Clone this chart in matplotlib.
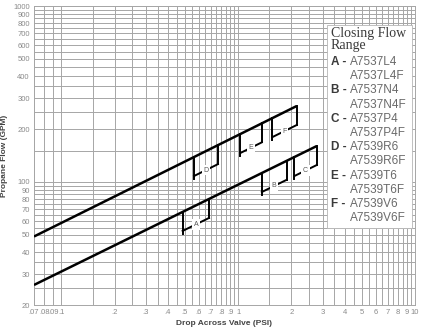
import matplotlib
matplotlib.use('Agg')
import matplotlib.pyplot as plt
import numpy as np
from matplotlib.patches import Rectangle

# ---- data ----
upper_x = [0.07, 2.14]
upper_y = [49, 270]
lower_x = [0.07, 2.78]
lower_y = [26, 160]

upper_brackets = [('D', 0.563, 0.768), ('E', 1.03, 1.36), ('F', 1.56, 2.14)]
lower_brackets = [('A', 0.485, 0.684), ('B', 1.36, 1.88), ('C', 2.08, 2.78)]

x_ticks = [0.07, 0.08, 0.09, 0.1, 0.2, 0.3, 0.4, 0.5, 0.6, 0.7, 0.8, 0.9, 1,
           2, 3, 4, 5, 6, 7, 8, 9, 10]
x_ticklabels = ['.07', '.08', '.09', '.1', '.2', '.3', '.4', '.5', '.6', '.7', '.8', '.9', '1',
                '2', '3', '4', '5', '6', '7', '8', '9', '10']
y_ticks = [20, 30, 40, 50, 60, 70, 80, 90, 100, 200, 300, 400, 500, 600, 700, 800, 900, 1000]
y_ticklabels = [str(v) for v in y_ticks]

legend_title = ['Closing Flow', 'Range']
legend_letters = ['A', 'B', 'C', 'D', 'E', 'F']
legend_codes = [('A7537L4', 'A7537L4F'), ('A7537N4', 'A7537N4F'), ('A7537P4', 'A7537P4F'),
                ('A7539R6', 'A7539R6F'), ('A7539T6', 'A7539T6F'), ('A7539V6', 'A7539V6F')]

# ---- figure ----
W, H = 421, 333
fig = plt.figure(figsize=(W / 100, H / 100), dpi=100)
ax = fig.add_axes([34 / W, 1 - 305 / H, (415 - 34) / W, (305 - 6) / H])
ax.set_xscale('log')
ax.set_yscale('log')
ax.set_xlim(0.07, 10)
ax.set_ylim(20, 1000)

grid_c = '#a6a6a6'
xgrid = list(np.arange(0.07, 0.1, 0.01)) + list(np.arange(0.1, 1.0, 0.05)) + list(np.arange(1, 10.01, 0.5))
ygrid = list(np.arange(20, 100, 5)) + list(np.arange(100, 1001, 50))
for gx in xgrid:
    ax.axvline(gx, color=grid_c, lw=0.7, zorder=1)
for gy in ygrid:
    ax.axhline(gy, color=grid_c, lw=0.7, zorder=1)

ax.set_xticks(x_ticks)
ax.set_xticklabels(x_ticklabels)
ax.set_yticks(y_ticks)
ax.set_yticklabels(y_ticklabels)
ax.xaxis.set_minor_locator(matplotlib.ticker.NullLocator())
ax.yaxis.set_minor_locator(matplotlib.ticker.NullLocator())
ax.tick_params(length=0, labelsize=5.5, labelcolor='#8a8a8a', pad=3)
for lab in ax.get_xticklabels() + ax.get_yticklabels():
    lab.set_family('Liberation Sans')
for s in ax.spines.values():
    s.set_color(grid_c)
    s.set_linewidth(0.7)

ax.set_xlabel('Drop Across Valve (PSI)', fontsize=6, color='#444444',
              family='Liberation Sans', fontweight='bold', labelpad=3)
ax.set_ylabel('Propane Flow (GPM)', fontsize=6, color='#444444',
              family='Liberation Sans', fontweight='bold', labelpad=4)

# ---- lines ----
ax.plot(upper_x, upper_y, color='black', lw=1.8, zorder=3, solid_capstyle='butt')
ax.plot(lower_x, lower_y, color='black', lw=1.8, zorder=3, solid_capstyle='butt')


def line_val(xs, ys, x):
    return 10 ** np.interp(np.log10(x), np.log10(xs), np.log10(ys))


def draw_brackets(xs, ys, brackets):
    for letter, x1, x2 in brackets:
        y1 = line_val(xs, ys, x1)
        y2 = line_val(xs, ys, x2)
        b1, b2 = y1 * 0.78, y2 * 0.78
        ax.plot([x1, x1], [y1, b1 * 0.965], color='black', lw=1.4, zorder=3)
        ax.plot([x1, x2], [b1, b2], color='black', lw=1.4, zorder=3)
        ax.plot([x2, x2], [b2, y2], color='black', lw=1.4, zorder=3, solid_capstyle='projecting')
        xm = np.sqrt(x1 * x2)
        ym = line_val(xs, ys, xm) * 0.78
        ax.text(xm, ym, letter, fontsize=5, color='#555555', ha='center', va='center',
                family='Liberation Sans', zorder=4,
                bbox=dict(boxstyle='square,pad=0.25', fc='white', ec='none'))


draw_brackets(upper_x, upper_y, upper_brackets)
draw_brackets(lower_x, lower_y, lower_brackets)

# ---- legend box ----
x0, x1 = 327, 412
yt, yb = 25, 228
rect = Rectangle((x0 / W, 1 - yb / H), (x1 - x0) / W, (yb - yt) / H, transform=fig.transFigure,
                 facecolor='white', edgecolor='#b5b5b5', lw=0.6, zorder=5, clip_on=False)
ax.add_patch(rect)
for i, t in enumerate(legend_title):
    fig.text(331 / W, 1 - (33 + 12 * i) / H, t, fontsize=10, family='Liberation Serif',
             color='#3a3a3a', ha='left', va='center', zorder=6)
row = 0
for letter, codes in zip(legend_letters, legend_codes):
    yy = 62 + 14.2 * row
    fig.text(331 / W, 1 - yy / H, letter + ' -', fontsize=8.5, family='Liberation Sans',
             fontweight='bold', color='#3a3a3a', ha='left', va='center', zorder=6)
    fig.text(350 / W, 1 - yy / H, codes[0], fontsize=8.5, family='Liberation Sans',
             color='#6a6a6a', ha='left', va='center', zorder=6)
    fig.text(350 / W, 1 - (yy + 14.2) / H, codes[1], fontsize=8.5, family='Liberation Sans',
             color='#6a6a6a', ha='left', va='center', zorder=6)
    row += 2

fig.savefig('out.png', dpi=100)
